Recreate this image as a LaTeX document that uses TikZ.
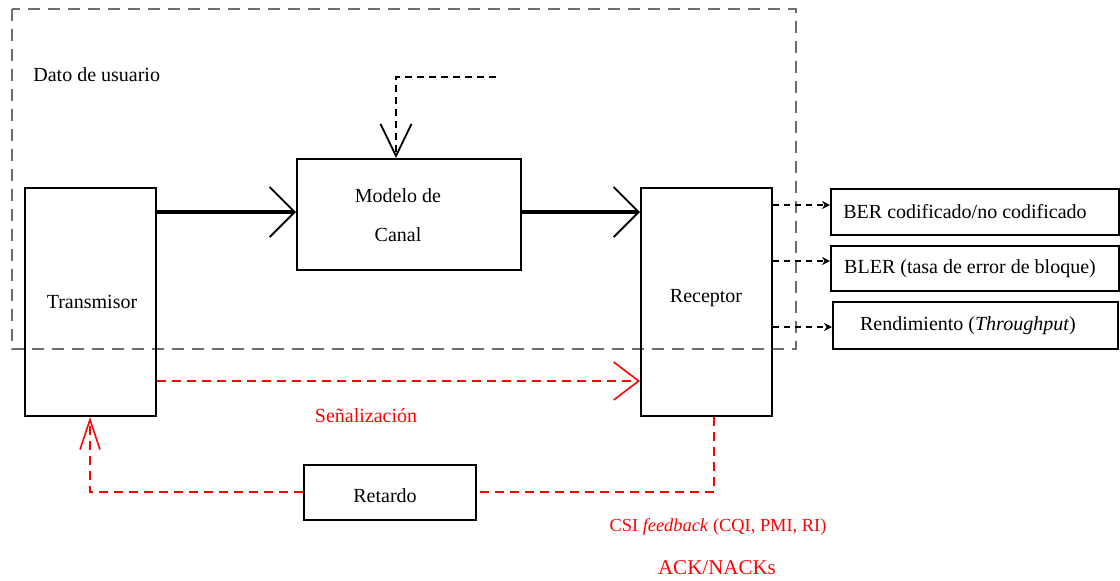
\documentclass[tikz,border=0pt]{standalone}
\usepackage{fontspec}
\setmainfont{Liberation Serif}
\usetikzlibrary{arrows.meta}
\definecolor{boxgray}{HTML}{6B6E72}
\tikzset{
  box/.style={draw=black, line width=1pt, inner sep=0pt},
  txt/.style={inner sep=0pt, font=\fontsize{10}{12}\selectfont},
  main/.style={line width=1.9pt, -{Straight Barb[length=12.5pt,width=25pt,line width=0.9pt]}},
  sig/.style={red, line width=1.2pt, dash pattern=on 4.5pt off 3pt},
  outarr/.style={line width=1pt, dash pattern=on 3pt off 2.5pt, -{Stealth[length=4pt,width=4pt]}},
  frame/.style={boxgray, line width=0.9pt, dash pattern=on 6pt off 4pt}
}
\begin{document}
\begin{tikzpicture}[x=0.5pt,y=-0.5pt]
\useasboundingbox (0,0) rectangle (1120,580);
% gray frame
\draw[frame] (12,9) rectangle (796,349);
\node[txt, anchor=west] (dato) at (33,75) {Dato de usuario};
% boxes
\node[box, minimum width=65.5pt, minimum height=114pt] (tx) at (90.5,302) {};
\node[txt] (txt1) at (92,302) {Transmisor};
\node[box, minimum width=112pt, minimum height=55.5pt] (mc) at (409,214.5) {};
\node[txt, align=center, font=\fontsize{10}{19.5}\selectfont] (mct) at (398,215) {Modelo de\\Canal};
\node[box, minimum width=65.5pt, minimum height=114pt] (rx) at (706.5,302) {};
\node[txt] (rxt) at (706,298) {Receptor};
\node[box, minimum width=86pt, minimum height=27.5pt] (rt) at (390,492.5) {};
\node[txt] (rtt) at (385,496) {Retardo};
% output boxes
\node[box, minimum width=144pt, minimum height=23pt] (ber) at (975,212) {};
\node[txt] (bert) at (965,212) {BER codificado/no codificado};
\node[box, minimum width=144pt, minimum height=22.5pt] (bler) at (975,268.5) {};
\node[txt] (blert) at (970,268.5) {BLER (tasa de error de bloque)};
\node[box, minimum width=142.5pt, minimum height=23.5pt] (thr) at (975.5,325.5) {};
\node[txt] (thrt) at (968,325.5) {Rendimiento (\textit{Throughput})};
% main arrows
\draw[main] (tx.east |- 0,212) -- (mc.west |- 0,212);
\draw[main] (mc.east |- 0,212) -- (rx.west |- 0,212);
% top dashed input
\coordinate (tin) at (496,77);
\draw[line width=1pt, dash pattern=on 3.5pt off 2.5pt, -{Straight Barb[length=16pt,width=15.5pt,line width=0.9pt]}]
  (tin) -- (396,77) -- (mc.north -| 396,0);
% outputs
\draw[outarr] (rx.east |- 0,205) -- (ber.west |- 0,205);
\draw[outarr] (rx.east |- 0,261) -- (bler.west |- 0,261);
\draw[outarr] (rx.east |- 0,327) -- (thr.west |- 0,327);
% signalling
\draw[sig, -{Straight Barb[length=12.5pt,width=19pt,line width=0.8pt]}] (tx.east |- 0,381) -- (rx.west |- 0,381);
\node[txt, red] (sen) at (366,416) {Señalización};
% feedback
\draw[sig] (rx.south -| 714,0) -- (714,492) -- (rt.east |- 0,492);
\draw[sig, -{Straight Barb[length=15pt,width=10pt,line width=0.8pt]}] (rt.west |- 0,492) -- (90,492) -- (tx.south -| 90,0);
\node[txt, red, font=\fontsize{9.2}{11}\selectfont] (csi) at (718,527) {CSI \textit{feedback} (CQI, PMI, RI)};
\node[txt, red, font=\fontsize{10.5}{12}\selectfont] (ack) at (717,568) {ACK/NACKs};
\end{tikzpicture}
\end{document}
